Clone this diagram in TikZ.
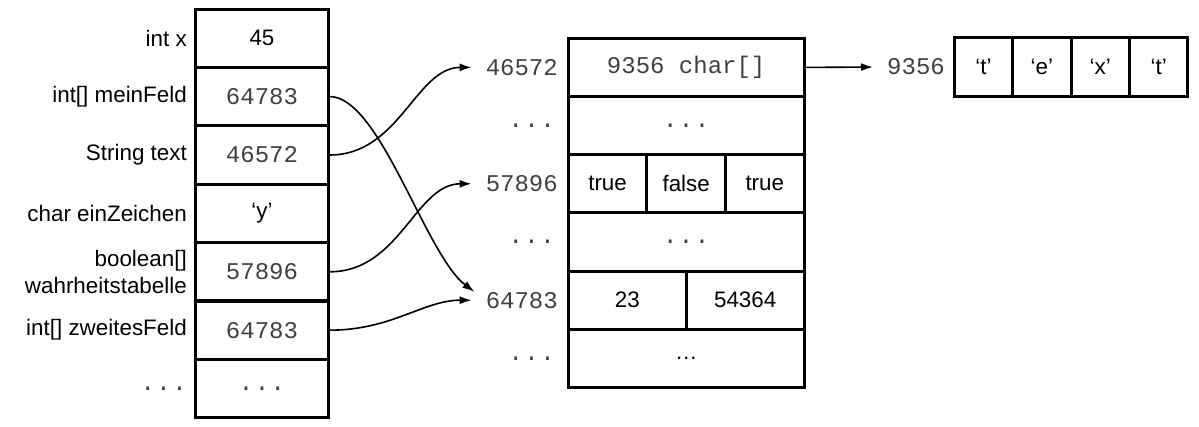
\documentclass[tikz,border=0pt]{standalone}
\usepackage{fontspec}
\setmainfont{Liberation Sans}
\setmonofont{Liberation Mono}
\usetikzlibrary{arrows.meta}
\newcommand{\memdots}{\texttt{.\hspace{1.5pt}.\hspace{1.5pt}.}}
\newcommand{\memval}[1]{{\fontsize{24}{28}\ttfamily\color{black!75}#1}}
\tikzset{
	cell/.style = {draw, line width=3pt, minimum width=#1, minimum height=58.3pt,
	               inner sep=0pt, font=\fontsize{22.4}{26}\selectfont},
	cell/.default = 132.5pt,
	varname/.style = {anchor=east, inner sep=0pt, align=right, font=\fontsize{22.4}{27}\selectfont},
	addr/.style = {anchor=east, inner sep=0pt, text=black!75, font=\fontsize{24}{28}\ttfamily},
	ref/.style = {line width=1.6pt, -{Latex[length=12pt,width=8pt]}, shorten >=14pt}
}
\begin{document}
\begin{tikzpicture}[x=1pt, y=-1pt]
	\useasboundingbox (0,0) rectangle (1199,427);
	% variables on the stack
	\foreach [count=\i] \name/\val in {int x/45,
	                                  int[] meinFeld/\memval{64783},
	                                  String text/\memval{46572},
	                                  char einZeichen/‘y’,
	                                  {boolean[]\\wahrheitstabelle}/\memval{57896},
	                                  int[] zweitesFeld/\memval{64783},
	                                  \memval{\memdots}/\memval{\memdots}}
	{
		\node[cell] (v\i) at (262, {9+58.4*(\i-0.5)}) {\val};
		\node[varname] (n\i) at (187, {9+58.4*(\i-0.5)}) {\name};
	}
	% heap
	\node[cell=235.7pt] (m1) at (686.2,67.4) {\memval{9356 char[]}};
	\node[cell=235.7pt] (m2) at (686.2,125.6) {\memval{\memdots}};
	\node[cell=78.6pt] (m3a) at (607.6,183.8) {true};
	\node[cell=78.6pt] (m3b) at (686.2,183.8) {false};
	\node[cell=78.6pt] (m3c) at (764.8,183.8) {true};
	\node[cell=235.7pt] (m4) at (686.2,242.0) {\memval{\memdots}};
	\node[cell=117.9pt] (m5a) at (627.3,300.2) {23};
	\node[cell=117.9pt] (m5b) at (745.2,300.2) {54364};
	\node[cell=235.7pt] (m6) at (686.2,358.4) {…};
	\node[addr] (a1) at (558,67.4) {46572};
	\node[addr] (a2) at (555,125.6) {\memdots};
	\node[addr] (a3) at (558,183.8) {57896};
	\node[addr] (a4) at (555,242.0) {\memdots};
	\node[addr] (a5) at (558,300.2) {64783};
	\node[addr] (a6) at (555,358.4) {\memdots};
	% char array
	\foreach [count=\i] \c in {‘t’,‘e’,‘x’,‘t’}
	{
		\node[cell=58.4pt] (r\i) at ({954.3+58.4*(\i-0.5)},67) {\c};
	}
	\node[addr] (ar) at (945,67) {9356};
	% references
	\draw[ref] (v3.east) to[out=0, in=180] (a1.west);
	\draw[ref] (v2.east) .. controls +(50,0) and +(-60,-45) .. (a5.west);
	\draw[ref] (v5.east) to[out=0, in=180] (a3.west);
	\draw[ref] (v6.east) to[out=0, in=180] (a5.west);
	\draw[ref] (m1.east) -- (ar.west);
\end{tikzpicture}
\end{document}
